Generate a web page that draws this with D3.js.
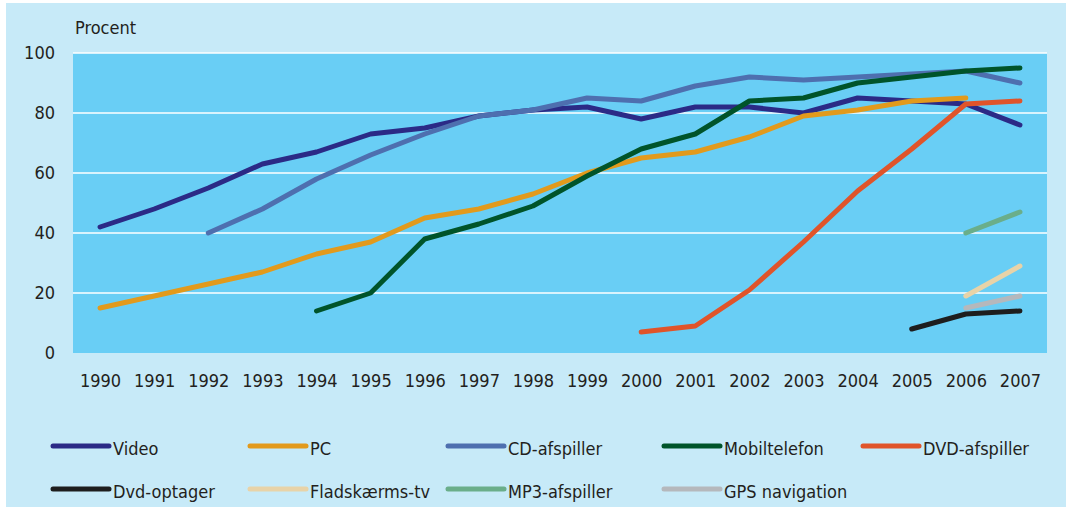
<!DOCTYPE html>
<html>
<head>
<meta charset="utf-8">
<script src="https://cdn.jsdelivr.net/npm/d3@7"></script>
<style>
  body { margin: 0; background: #fff; }
  text { font-family: "DejaVu Sans Condensed", "Liberation Sans Narrow", sans-serif; fill: #231f20; }
</style>
</head>
<body>
<div id="chart"></div>
<script>
// Husstandes adgang til medier 1990-2007

var years = d3.range(1990, 2008);
var yTicks = [0, 20, 40, 60, 80, 100];

// values per series, first year given by start
var video = [42, 48, 55, 63, 67, 73, 75, 79, 81, 82, 78, 82, 82, 80, 85, 84, 83, 76];
var pc = [15, 19, 23, 27, 33, 37, 45, 48, 53, 60, 65, 67, 72, 79, 81, 84, 85];
var cd = [40, 48, 58, 66, 73, 79, 81, 85, 84, 89, 92, 91, 92, 93, 94, 90];
var mobil = [14, 20, 38, 43, 49, 59, 68, 73, 84, 85, 90, 92, 94, 95];
var dvd = [7, 9, 21, 37, 54, 68, 83, 84];
var dvdOptager = [8, 13, 14];
var flad = [19, 29];
var mp3 = [40, 47];
var gps = [15, 19];

var series = [
  { name: "Video", start: 1990, values: video, color: "#2b2a86" },
  { name: "PC", start: 1990, values: pc, color: "#e29a1c" },
  { name: "CD-afspiller", start: 1992, values: cd, color: "#4e6faf" },
  { name: "Mobiltelefon", start: 1994, values: mobil, color: "#00542a" },
  { name: "DVD-afspiller", start: 2000, values: dvd, color: "#e0542a" },
  { name: "Dvd-optager", start: 2005, values: dvdOptager, color: "#1e1e1e" },
  { name: "Fladskærms-tv", start: 2006, values: flad, color: "#e8d3a8" },
  { name: "MP3-afspiller", start: 2006, values: mp3, color: "#6aae8a" },
  { name: "GPS navigation", start: 2006, values: gps, color: "#b5b8bc" }
];

var width = 1066, height = 507;
var plot = { left: 73, right: 1047, top: 53, bottom: 353 };
var legendCols = [53, 250, 448, 664, 863];

var svg = d3.select("#chart").append("svg")
    .attr("width", width)
    .attr("height", height);

svg.append("rect")
    .attr("x", 6).attr("y", 3)
    .attr("width", width - 6).attr("height", height - 3)
    .attr("fill", "#c7eaf8");

svg.append("rect")
    .attr("x", plot.left).attr("y", plot.top)
    .attr("width", plot.right - plot.left)
    .attr("height", plot.bottom - plot.top)
    .attr("fill", "#69cef5");

var x = d3.scalePoint()
    .domain(years)
    .range([plot.left, plot.right])
    .padding(0.5);

var y = d3.scaleLinear()
    .domain([0, 100])
    .range([plot.bottom, plot.top]);

// grid
svg.append("g")
  .selectAll("line")
  .data(yTicks.filter(function(d) { return d > 0; }))
  .enter().append("line")
    .attr("x1", plot.left).attr("x2", plot.right)
    .attr("y1", function(d) { return y(d); })
    .attr("y2", function(d) { return y(d); })
    .attr("stroke", "#fff")
    .attr("stroke-width", 1.3);

// axes
var yAxis = svg.append("g")
    .attr("transform", "translate(" + plot.left + ",0)")
    .call(d3.axisLeft(y).tickValues(yTicks).tickSize(0).tickPadding(18));
yAxis.select(".domain").remove();
yAxis.selectAll("text").attr("font-size", 18).style("font-family", null);

var xAxis = svg.append("g")
    .attr("transform", "translate(0," + plot.bottom + ")")
    .call(d3.axisBottom(x).tickSize(0).tickPadding(21).tickFormat(d3.format("d")));
xAxis.select(".domain").remove();
xAxis.selectAll("text").attr("font-size", 18).style("font-family", null);

svg.append("text")
    .attr("x", 75).attr("y", 34)
    .attr("font-size", 18)
    .text("Procent");

// lines
var line = d3.line()
    .x(function(d) { return x(d.year); })
    .y(function(d) { return y(d.value); });

svg.append("g")
  .selectAll("path")
  .data(series)
  .enter().append("path")
    .attr("d", function(s) {
      return line(s.values.map(function(v, i) { return { year: s.start + i, value: v }; }));
    })
    .attr("fill", "none")
    .attr("stroke", function(s) { return s.color; })
    .attr("stroke-width", 5)
    .attr("stroke-linecap", "round")
    .attr("stroke-linejoin", "round");

// legend
var legend = svg.append("g")
  .selectAll("g")
  .data(series)
  .enter().append("g")
    .attr("transform", function(d, i) {
      return "translate(" + legendCols[i % 5] + "," + (446 + Math.floor(i / 5) * 43) + ")";
    });

legend.append("line")
    .attr("x1", 0).attr("x2", 56)
    .attr("stroke", function(d) { return d.color; })
    .attr("stroke-width", 5)
    .attr("stroke-linecap", "round");

legend.append("text")
    .attr("x", 60).attr("y", 9)
    .attr("font-size", 18)
    .text(function(d) { return d.name; });
</script>
</body>
</html>
